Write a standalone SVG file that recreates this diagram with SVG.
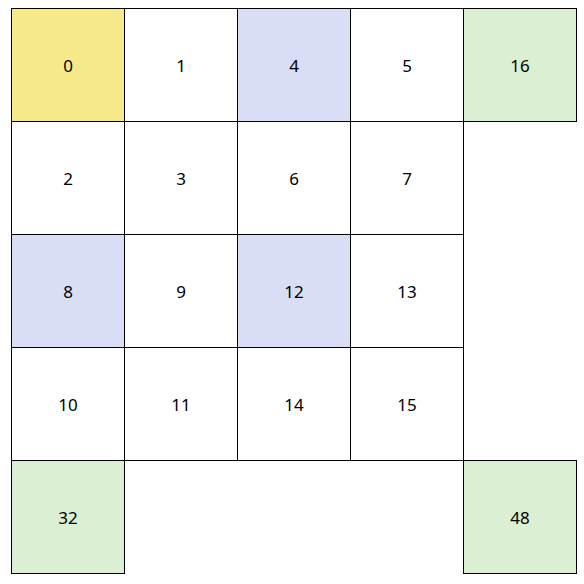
<svg xmlns="http://www.w3.org/2000/svg" width="584" height="584" viewBox="0 0 584 584">
<style>
rect{stroke:#000;stroke-width:1}
.w{fill:#fff}.y{fill:#f6e98a}.b{fill:#d9ddf6}.g{fill:#dbefd3}
text{font-family:"Noto Sans","Open Sans",sans-serif;font-size:17px;fill:#000;text-anchor:middle;dominant-baseline:central}
</style>
<rect x="0" y="0" width="584" height="584" style="fill:#fff;stroke:none"/>
<g id="n0"><rect class="y" x="11.5" y="8.5" width="113" height="113"/><text x="68" y="65">0</text></g>
<g id="n1"><rect class="w" x="124.5" y="8.5" width="113" height="113"/><text x="181" y="65">1</text></g>
<g id="n4"><rect class="b" x="237.5" y="8.5" width="113" height="113"/><text x="294" y="65">4</text></g>
<g id="n5"><rect class="w" x="350.5" y="8.5" width="113" height="113"/><text x="407" y="65">5</text></g>
<g id="n16"><rect class="g" x="463.5" y="8.5" width="113" height="113"/><text x="520" y="65">16</text></g>
<g id="n2"><rect class="w" x="11.5" y="121.5" width="113" height="113"/><text x="68" y="178">2</text></g>
<g id="n3"><rect class="w" x="124.5" y="121.5" width="113" height="113"/><text x="181" y="178">3</text></g>
<g id="n6"><rect class="w" x="237.5" y="121.5" width="113" height="113"/><text x="294" y="178">6</text></g>
<g id="n7"><rect class="w" x="350.5" y="121.5" width="113" height="113"/><text x="407" y="178">7</text></g>
<g id="n8"><rect class="b" x="11.5" y="234.5" width="113" height="113"/><text x="68" y="291">8</text></g>
<g id="n9"><rect class="w" x="124.5" y="234.5" width="113" height="113"/><text x="181" y="291">9</text></g>
<g id="n12"><rect class="b" x="237.5" y="234.5" width="113" height="113"/><text x="294" y="291">12</text></g>
<g id="n13"><rect class="w" x="350.5" y="234.5" width="113" height="113"/><text x="407" y="291">13</text></g>
<g id="n10"><rect class="w" x="11.5" y="347.5" width="113" height="113"/><text x="68" y="404">10</text></g>
<g id="n11"><rect class="w" x="124.5" y="347.5" width="113" height="113"/><text x="181" y="404">11</text></g>
<g id="n14"><rect class="w" x="237.5" y="347.5" width="113" height="113"/><text x="294" y="404">14</text></g>
<g id="n15"><rect class="w" x="350.5" y="347.5" width="113" height="113"/><text x="407" y="404">15</text></g>
<g id="n32"><rect class="g" x="11.5" y="460.5" width="113" height="113"/><text x="68" y="517">32</text></g>
<g id="n48"><rect class="g" x="463.5" y="460.5" width="113" height="113"/><text x="520" y="517">48</text></g>
<g id="connectors"/>
</svg>
